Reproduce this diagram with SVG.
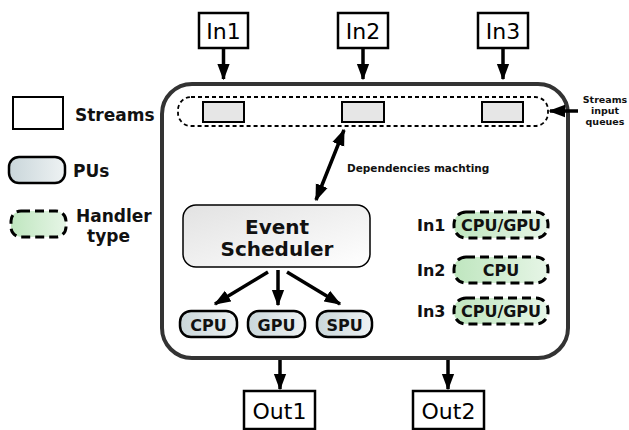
<svg xmlns="http://www.w3.org/2000/svg" width="629" height="430" viewBox="0 0 629 430">
<defs>
<linearGradient id="gPU" x1="0" y1="0" x2="1" y2="0"><stop offset="0" stop-color="#c9d6da"/><stop offset="1" stop-color="#eef2f3"/></linearGradient>
<linearGradient id="gH" x1="0" y1="0" x2="1" y2="0"><stop offset="0" stop-color="#bfe6bf"/><stop offset="1" stop-color="#e6f5e6"/></linearGradient>
<linearGradient id="gES" x1="0" y1="0" x2="1" y2="1"><stop offset="0" stop-color="#e2e2e2"/><stop offset="1" stop-color="#ffffff"/></linearGradient>
<marker id="ah" viewBox="0 0 12 10" refX="11" refY="5" markerWidth="4.8" markerHeight="4" markerUnits="strokeWidth" orient="auto-start-reverse"><path d="M0,0.5 L12,5 L0,9.5 z" fill="#000"/></marker>
</defs>
<style>
.io{fill:#fff;stroke:#000;stroke-width:2.5}
.io-t{font-family:"DejaVu Sans",sans-serif;font-size:22px;fill:#000;text-anchor:middle}
.b{font-family:"DejaVu Sans",sans-serif;font-weight:bold;fill:#111}
.pu{fill:url(#gPU);stroke:#000;stroke-width:2.5}
.h{fill:url(#gH);stroke:#000;stroke-width:3;stroke-dasharray:9,5}
.q{fill:#e6e6e6;stroke:#000;stroke-width:2}
.con{stroke:#000;stroke-width:3.5;fill:none}
</style>
<rect x="162" y="84" width="406" height="274" rx="30" fill="#fff" stroke="#333" stroke-width="4"/>
<g id="legend">
<rect x="13" y="97" width="50" height="32" fill="#fff" stroke="#000" stroke-width="2"/>
<text class="b" x="75" y="121" font-size="17">Streams</text>
<rect x="9" y="157" width="56" height="26" rx="10" class="pu"/>
<text class="b" x="73" y="177" font-size="17">PUs</text>
<rect x="11" y="211" width="55" height="26" rx="10" class="h"/>
<text class="b" x="76" y="222" font-size="17">Handler</text>
<text class="b" x="87" y="242" font-size="17">type</text>
</g>
<g id="in1"><rect class="io" x="199" y="13" width="49" height="35"/><text class="io-t" x="223.5" y="39">In1</text></g>
<g id="in2"><rect class="io" x="338" y="13" width="50" height="35"/><text class="io-t" x="363" y="39">In2</text></g>
<g id="in3"><rect class="io" x="478" y="13" width="50" height="35"/><text class="io-t" x="503" y="39">In3</text></g>
<g id="out1"><rect class="io" x="244" y="391" width="71" height="38"/><text class="io-t" x="279.5" y="419">Out1</text></g>
<g id="out2"><rect class="io" x="413" y="391" width="71" height="38"/><text class="io-t" x="448.5" y="419">Out2</text></g>
<g id="queues">
<rect x="178" y="97" width="370" height="29" rx="13" fill="none" stroke="#000" stroke-width="1.8" stroke-dasharray="4,3"/>
<rect class="q" x="203" y="102" width="41" height="20"/>
<rect class="q" x="342" y="102" width="42" height="20"/>
<rect class="q" x="482" y="102" width="41" height="20"/>
</g>
<g id="queue-label">
<text class="b" font-size="9.5" text-anchor="middle"><tspan x="605" y="103">Streams</tspan><tspan x="605" y="114">input</tspan><tspan x="605" y="125">queues</tspan></text>
</g>
<g id="scheduler">
<rect x="183" y="205" width="187" height="62" rx="13" fill="url(#gES)" stroke="#000" stroke-width="1.5"/>
<text class="b" font-size="20" text-anchor="middle"><tspan x="277" y="234">Event</tspan><tspan x="277" y="256">Scheduler</tspan></text>
</g>
<g id="cpu"><rect class="pu" x="180" y="311" width="57" height="26" rx="11"/><text class="b" x="208.5" y="331" font-size="16" text-anchor="middle">CPU</text></g>
<g id="gpu"><rect class="pu" x="248" y="311" width="57" height="26" rx="11"/><text class="b" x="276.5" y="331" font-size="16" text-anchor="middle">GPU</text></g>
<g id="spu"><rect class="pu" x="317" y="311" width="55" height="26" rx="11"/><text class="b" x="344.5" y="331" font-size="16" text-anchor="middle">SPU</text></g>
<g id="handlers">
<text class="b" x="417" y="231" font-size="16">In1</text>
<rect class="h" x="454" y="212" width="94" height="26" rx="12"/>
<text class="b" x="501" y="231" font-size="16" text-anchor="middle">CPU/GPU</text>
<text class="b" x="417" y="276" font-size="16">In2</text>
<rect class="h" x="454" y="257" width="94" height="26" rx="12"/>
<text class="b" x="501" y="276" font-size="16" text-anchor="middle">CPU</text>
<text class="b" x="417" y="317" font-size="16">In3</text>
<rect class="h" x="454" y="298" width="94" height="26" rx="12"/>
<text class="b" x="501" y="317" font-size="16" text-anchor="middle">CPU/GPU</text>
</g>
<text class="b" x="347" y="172" font-size="10.5">Dependencies machting</text>
<g id="connectors">
<line class="con" x1="223.5" y1="48" x2="223.5" y2="79" marker-end="url(#ah)"/>
<line class="con" x1="363" y1="48" x2="363" y2="79" marker-end="url(#ah)"/>
<line class="con" x1="503" y1="48" x2="503" y2="79" marker-end="url(#ah)"/>
<line class="con" x1="280" y1="360" x2="280" y2="389" marker-end="url(#ah)"/>
<line class="con" x1="448" y1="360" x2="448" y2="389" marker-end="url(#ah)"/>
<line class="con" x1="578" y1="111" x2="550" y2="111" marker-end="url(#ah)"/>
<line class="con" x1="344" y1="130" x2="316" y2="200" marker-start="url(#ah)" marker-end="url(#ah)"/>
<line class="con" x1="268" y1="272" x2="215" y2="304" marker-end="url(#ah)"/>
<line class="con" x1="278" y1="270" x2="278" y2="305" marker-end="url(#ah)"/>
<line class="con" x1="287" y1="272" x2="340" y2="304" marker-end="url(#ah)"/>
</g>
</svg>
